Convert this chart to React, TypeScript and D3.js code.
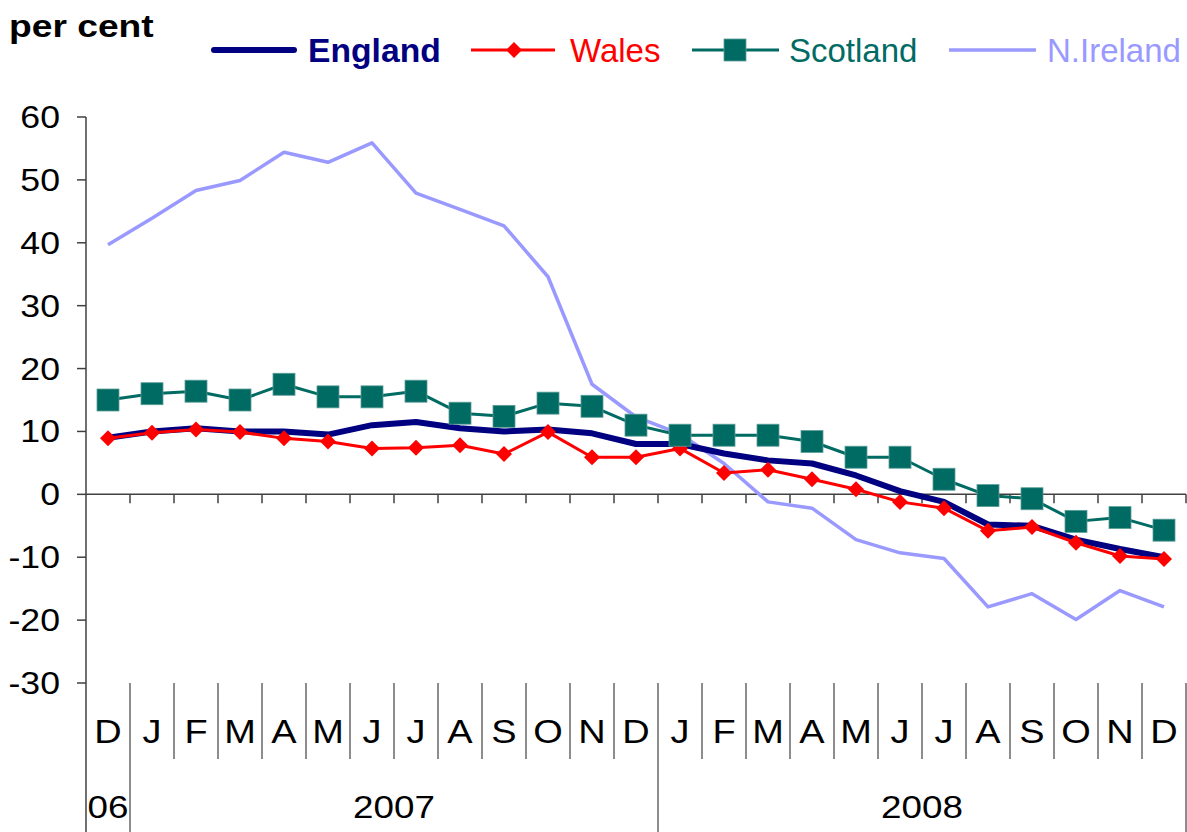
import { useRef, useEffect } from 'react';
import * as d3 from 'd3';

const months = ['D', 'J', 'F', 'M', 'A', 'M', 'J', 'J', 'A', 'S', 'O', 'N', 'D', 'J', 'F', 'M', 'A', 'M', 'J', 'J', 'A', 'S', 'O', 'N', 'D'];
const yearLabels = ['06', '2007', '2008'];
const yearMonths = [1, 12, 12];
const yTicks = [-30, -20, -10, 0, 10, 20, 30, 40, 50, 60];

const england = [9, 10, 10.5, 10, 10, 9.5, 11, 11.5, 10.5, 10, 10.3, 9.7, 8, 8, 6.5, 5.4, 4.9, 3, 0.5, -1.2, -4.8, -5, -7.2, -8.7, -10];
const wales = [8.9, 9.8, 10.3, 9.9, 8.9, 8.4, 7.3, 7.4, 7.8, 6.4, 9.9, 5.9, 5.9, 7.3, 3.4, 3.9, 2.4, 0.8, -1.2, -2.2, -5.8, -5.2, -7.7, -9.8, -10.3];
const scotland = [15, 16, 16.4, 15, 17.5, 15.5, 15.5, 16.4, 12.9, 12.4, 14.5, 14, 11, 9.4, 9.4, 9.4, 8.4, 5.9, 5.9, 2.4, -0.2, -0.7, -4.3, -3.7, -5.7];
const nireland = [39.7, 43.9, 48.3, 49.9, 54.4, 52.8, 55.9, 47.9, 45.3, 42.7, 34.6, 17.5, 12.3, 9.6, 4.9, -1.2, -2.2, -7.2, -9.3, -10.2, -17.9, -15.8, -19.9, -15.3, -17.9];

const FONT = 'Arial, "Liberation Sans", sans-serif';
const SX = 1.15; // the reference text looks stretched sideways

function Chart() {
    const ref = useRef<SVGSVGElement>(null);

    useEffect(() => {
        document.body.style.margin = '0';
        const svg = d3.select(ref.current);
        svg.selectAll('*').remove();

        const W = 1187, H = 832;
        const left = 86, right = 1186, top = 117, bottom = 683;

        const x = d3.scaleBand<number>()
            .domain(months.map((_, i) => i))
            .range([left, right]);
        const y = d3.scaleLinear().domain([-30, 60]).range([bottom, top]);
        const cx = (i: number) => (x(i) as number) + x.bandwidth() / 2;

        const text = (g: any, tx: number, ty: number, s: string, size: number, anchor: string, fill = '#000', weight = 'normal', sx = SX) =>
            g.append('text')
                .attr('transform', `translate(${tx},${ty}) scale(${sx},1)`)
                .attr('text-anchor', anchor)
                .attr('font-family', FONT)
                .attr('font-size', size)
                .attr('font-weight', weight)
                .attr('fill', fill)
                .text(s);

        svg.append('rect').attr('width', W).attr('height', H).attr('fill', '#fff');

        // y axis
        const axisCol = '#404040';
        svg.append('line')
            .attr('x1', left).attr('x2', left)
            .attr('y1', top).attr('y2', H)
            .attr('stroke', axisCol).attr('stroke-width', 1.5);
        yTicks.forEach(t => {
            svg.append('line')
                .attr('x1', left - 9).attr('x2', left)
                .attr('y1', y(t)).attr('y2', y(t))
                .attr('stroke', axisCol).attr('stroke-width', 1.5);
            text(svg, left - 26, y(t) + 11, String(t), 31, 'end', '#000', 'normal');
        });

        // zero line with category ticks
        svg.append('line')
            .attr('x1', left).attr('x2', right)
            .attr('y1', y(0)).attr('y2', y(0))
            .attr('stroke', axisCol).attr('stroke-width', 1.5);
        months.forEach((_, i) => {
            const bx = (x(i) as number) + x.bandwidth();
            svg.append('line')
                .attr('x1', bx).attr('x2', bx)
                .attr('y1', y(0)).attr('y2', y(0) + 9)
                .attr('stroke', axisCol).attr('stroke-width', 1.5);
        });

        // month labels and separators
        const yearEdges = d3.cumsum(yearMonths);
        months.forEach((m, i) => {
            text(svg, cx(i), 743, m, 33, 'middle');
            const bx = (x(i) as number) + x.bandwidth();
            const full = yearEdges.includes(i + 1);
            svg.append('line')
                .attr('x1', bx).attr('x2', bx)
                .attr('y1', bottom).attr('y2', full ? H : 759)
                .attr('stroke', axisCol).attr('stroke-width', 1.2);
        });
        yearLabels.forEach((lab, k) => {
            const s = k === 0 ? 0 : yearEdges[k - 1];
            const e = yearEdges[k];
            const mid = ((x(s) as number) + (x(e - 1) as number) + x.bandwidth()) / 2;
            text(svg, mid, 818, lab, 32, 'middle');
        });

        const line = d3.line<number>()
            .x((_, i) => cx(i))
            .y(d => y(d));

        svg.append('path').datum(nireland)
            .attr('d', line).attr('fill', 'none')
            .attr('stroke', '#9999FF').attr('stroke-width', 3.5).attr('stroke-linejoin', 'round');
        svg.append('path').datum(england)
            .attr('d', line).attr('fill', 'none')
            .attr('stroke', '#000080').attr('stroke-width', 6).attr('stroke-linejoin', 'round');
        svg.append('path').datum(wales)
            .attr('d', line).attr('fill', 'none')
            .attr('stroke', '#FF0000').attr('stroke-width', 3).attr('stroke-linejoin', 'round');
        const diamond = (g: any, px: number, py: number) =>
            g.append('path')
                .attr('d', `M${px},${py - 8}L${px + 8},${py}L${px},${py + 8}L${px - 8},${py}Z`)
                .attr('fill', '#FF0000');
        wales.forEach((v, i) => diamond(svg, cx(i), y(v)));

        svg.append('path').datum(scotland)
            .attr('d', line).attr('fill', 'none')
            .attr('stroke', '#006B63').attr('stroke-width', 3).attr('stroke-linejoin', 'round');
        const square = (g: any, px: number, py: number) =>
            g.append('rect')
                .attr('x', px - 11).attr('y', py - 11)
                .attr('width', 22).attr('height', 22)
                .attr('fill', '#006B63')
                .attr('stroke', '#5C9E98').attr('stroke-width', 0.8);
        scotland.forEach((v, i) => square(svg, cx(i), y(v)));

        // title and legend
        text(svg, 9, 37, 'per cent', 31, 'start', '#000', 'bold', 1.2);
        const ly = 50, ty = 62;
        svg.append('line').attr('x1', 214).attr('x2', 294).attr('y1', ly).attr('y2', ly)
            .attr('stroke', '#000080').attr('stroke-width', 6).attr('stroke-linecap', 'round');
        text(svg, 308, ty, 'England', 33, 'start', '#000080', 'bold', 1.02);

        svg.append('line').attr('x1', 471).attr('x2', 555).attr('y1', ly).attr('y2', ly)
            .attr('stroke', '#FF0000').attr('stroke-width', 3);
        diamond(svg, 514, ly);
        text(svg, 570, ty, 'Wales', 33, 'start', '#FF0000', 'normal', 1.0);

        svg.append('line').attr('x1', 692).attr('x2', 779).attr('y1', ly).attr('y2', ly)
            .attr('stroke', '#006B63').attr('stroke-width', 3);
        square(svg, 735, ly);
        text(svg, 789, ty, 'Scotland', 33, 'start', '#006B63', 'normal', 1.0);

        svg.append('line').attr('x1', 949).attr('x2', 1036).attr('y1', ly).attr('y2', ly)
            .attr('stroke', '#9999FF').attr('stroke-width', 3.5);
        text(svg, 1047, ty, 'N.Ireland', 33, 'start', '#9999FF', 'normal', 1.0);
    }, []);

    return <svg ref={ref} width={1187} height={832} style={{ display: 'block' }} />;
}

export default function App() {
    return <Chart />;
}
